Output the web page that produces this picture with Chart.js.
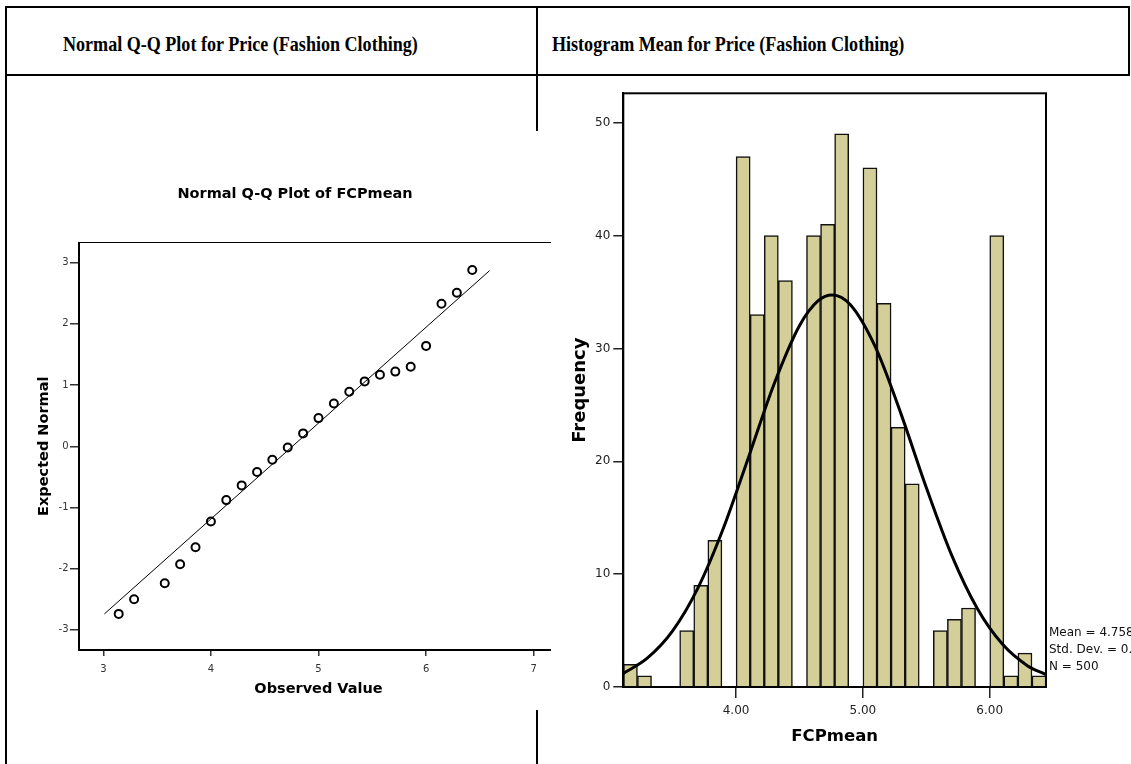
<!DOCTYPE html>
<html>
<head>
<meta charset="utf-8">
<script src="https://cdn.jsdelivr.net/npm/chart.js@4.4.1/dist/chart.umd.min.js"></script>
<style>
  body { margin: 0; width: 1131px; height: 764px; overflow: hidden; background: #fff; position: relative; }
  .ln { position: absolute; background: #000; }
  .hd { position: absolute; top: 31px; font-family: "Liberation Serif", serif; font-weight: bold; font-size: 21px;
        white-space: nowrap; transform: scaleX(0.86); transform-origin: 0 50%; line-height: 26px; }
  #qqWrap { position: absolute; left: 27px; top: 131px; width: 524px; height: 579px; overflow: hidden; background: #fff; }
  #histWrap { position: absolute; left: 552px; top: 77px; width: 579px; height: 687px; background: #fff; }
</style>
</head>
<body>
<!-- table borders -->
<div class="ln" style="left:5px;top:6px;width:1125px;height:2px"></div>
<div class="ln" style="left:5px;top:74px;width:1125px;height:2px"></div>
<div class="ln" style="left:5px;top:6px;width:2px;height:758px"></div>
<div class="ln" style="left:1128px;top:6px;width:2px;height:70px"></div>
<div class="ln" style="left:536px;top:6px;width:2px;height:758px"></div>

<div class="hd" style="left:63px">Normal Q-Q Plot for Price (Fashion Clothing)</div>
<div class="hd" style="left:552px">Histogram Mean for Price (Fashion Clothing)</div>

<div id="qqWrap"><canvas id="qqChart" width="537" height="579"></canvas></div>
<div id="histWrap"><canvas id="histChart" width="579" height="687"></canvas></div>

<script>
// Q-Q plot data
const qqObserved = [3.143, 3.286, 3.571, 3.714, 3.857, 4.000, 4.143, 4.286, 4.429, 4.571, 4.714, 4.857,
                    5.000, 5.143, 5.286, 5.429, 5.571, 5.714, 5.857, 6.000, 6.143, 6.286, 6.429];
const qqExpected = [-2.74, -2.50, -2.24, -1.93, -1.65, -1.23, -0.88, -0.64, -0.42, -0.22, -0.02, 0.21,
                    0.46, 0.70, 0.89, 1.06, 1.17, 1.22, 1.30, 1.64, 2.33, 2.51, 2.88];
const qqLineX = [3.01, 6.59];
const qqLineY = [-2.74, 2.87];
const qqXTicks = [3, 4, 5, 6, 7];
const qqYTicks = [-3, -2, -1, 0, 1, 2, 3];

// histogram data (bins of width 1/9)
const binMids = [3.167, 3.278, 3.389, 3.500, 3.611, 3.722, 3.833, 3.944, 4.056, 4.167,
                 4.278, 4.389, 4.500, 4.611, 4.722, 4.833, 4.944, 5.056, 5.167, 5.278,
                 5.389, 5.500, 5.611, 5.722, 5.833, 5.944, 6.056, 6.167, 6.278, 6.389];
const binCounts = [2, 1, 0, 0, 5, 9, 13, 0, 47, 33,
                   40, 36, 0, 40, 41, 49, 0, 46, 34, 23,
                   18, 0, 5, 6, 7, 0, 40, 1, 3, 1];
const curveX = [3.111, 3.3, 3.5, 3.7, 3.9, 4.1, 4.3, 4.5, 4.65, 4.758, 4.9, 5.1, 5.3, 5.5, 5.7, 5.9, 6.1, 6.3, 6.444];
const curveY = [1.2, 2.55, 4.97, 8.78, 14.06, 20.41, 26.85, 32.01, 34.25, 34.74, 33.89, 30.09, 24.22, 17.67, 11.68, 7.0, 3.8, 1.87, 1.1];
const histXTicks = [4, 5, 6];
const histYTicks = [0, 10, 20, 30, 40, 50];
const statsLines = ['Mean = 4.758', 'Std. Dev. = 0.63766', 'N = 500'];

Chart.defaults.font.family = 'DejaVu Sans';
Chart.defaults.color = '#222';

// box around the plot area (the Q-Q one runs past the clip on the right)
function frame(width) {
  return {
    id: 'frame',
    afterDraw(chart) {
      const { ctx, chartArea: a } = chart;
      ctx.save();
      ctx.strokeStyle = '#000';
      ctx.lineWidth = width;
      ctx.strokeRect(a.left, a.top, a.right - a.left, a.bottom - a.top);
      ctx.restore();
    }
  };
}

new Chart(document.getElementById('qqChart'), {
  type: 'scatter',
  data: {
    datasets: [
      {
        data: qqObserved.map((v, i) => ({ x: v, y: qqExpected[i] })),
        pointStyle: 'circle',
        pointRadius: 4,
        pointBorderWidth: 2,
        pointBorderColor: '#000',
        pointBackgroundColor: 'rgba(0,0,0,0)'
      },
      {
        data: qqLineX.map((v, i) => ({ x: v, y: qqLineY[i] })),
        showLine: true,
        borderColor: '#000',
        borderWidth: 1,
        pointRadius: 0
      }
    ]
  },
  options: {
    responsive: false,
    animation: false,
    layout: { padding: { top: 0, right: 1, left: 0, bottom: 0 } },
    plugins: {
      legend: { display: false },
      tooltip: { enabled: false },
      title: {
        display: true,
        text: 'Normal Q-Q Plot of FCPmean',
        color: '#000',
        font: { size: 14.5, weight: 'bold' },
        padding: { top: 54.3, bottom: 39.8 }
      }
    },
    scales: {
      x: {
        type: 'linear', min: 2.774, max: 7.226,
        afterBuildTicks: s => { s.ticks = qqXTicks.map(v => ({ value: v })); },
        afterFit: s => { s.height = 60; },
        border: { color: '#000', width: 2 },
        grid: { drawOnChartArea: false, tickLength: 6, tickColor: '#333', lineWidth: 1.5 },
        ticks: { font: { size: 10 }, color: '#333', padding: 7 },
        title: { display: true, text: 'Observed Value', color: '#000', font: { size: 14.5, weight: 'bold' }, padding: { top: 0, bottom: 12.3 } }
      },
      y: {
        type: 'linear', min: -3.33, max: 3.33,
        afterBuildTicks: s => { s.ticks = qqYTicks.map(v => ({ value: v })); },
        afterFit: s => { s.width = 52; },
        border: { color: '#000', width: 2 },
        grid: { drawOnChartArea: false, tickLength: 9, tickColor: '#333', lineWidth: 1.5 },
        ticks: { font: { size: 10 }, color: '#333', padding: 1.5 },
        title: { display: true, text: 'Expected Normal', color: '#000', font: { size: 14.5, weight: 'bold' }, padding: { top: 8.3, bottom: 0 } }
      }
    }
  },
  plugins: [frame(1)]
});

const statsPlugin = {
  id: 'stats',
  afterDraw(chart) {
    const { ctx, chartArea: a } = chart;
    ctx.save();
    ctx.fillStyle = '#111';
    ctx.font = '12px "DejaVu Sans"';
    ctx.textBaseline = 'middle';
    statsLines.forEach((t, i) => ctx.fillText(t, a.right + 3, a.bottom - 54 + i * 17));
    ctx.restore();
  }
};

new Chart(document.getElementById('histChart'), {
  type: 'bar',
  data: {
    datasets: [
      {
        type: 'line',
        data: curveX.map((v, i) => ({ x: v, y: curveY[i] })),
        borderColor: '#000',
        borderWidth: 3,
        pointRadius: 0,
        cubicInterpolationMode: 'monotone',
        order: 0
      },
      {
        data: binMids.map((v, i) => ({ x: v, y: binCounts[i] })),
        backgroundColor: '#d4cf99',
        borderColor: '#111',
        borderWidth: 1.5,
        barPercentage: 1,
        categoryPercentage: 1,
        order: 1
      }
    ]
  },
  options: {
    responsive: false,
    animation: false,
    layout: { padding: { top: 16.3, right: 85, left: 0, bottom: 0 } },
    plugins: { legend: { display: false }, tooltip: { enabled: false } },
    scales: {
      x: {
        type: 'linear', min: 3.111, max: 6.444, offset: false,
        afterBuildTicks: s => { s.ticks = histXTicks.map(v => ({ value: v })); },
        afterFit: s => { s.height = 77; },
        border: { color: '#000', width: 2 },
        grid: { offset: false, drawOnChartArea: false, tickLength: 11, tickColor: '#222', lineWidth: 1.5 },
        ticks: { font: { size: 12 }, color: '#222', padding: 6, callback: v => v.toFixed(2) },
        title: { display: true, text: 'FCPmean', color: '#000', font: { size: 16.5, weight: 'bold' }, padding: { top: 0, bottom: 17 } }
      },
      y: {
        min: 0, max: 52.6,
        afterBuildTicks: s => { s.ticks = histYTicks.map(v => ({ value: v })); },
        afterFit: s => { s.width = 71.3; },
        border: { color: '#000', width: 2 },
        grid: { drawOnChartArea: false, tickLength: 10, tickColor: '#222', lineWidth: 1.5 },
        ticks: { font: { size: 12 }, color: '#222', padding: 3 },
        title: { display: true, text: 'Frequency', color: '#000', font: { size: 18, weight: 'bold' }, padding: { top: 17.7, bottom: 0 } }
      }
    }
  },
  plugins: [frame(2), statsPlugin]
});
</script>
</body>
</html>
